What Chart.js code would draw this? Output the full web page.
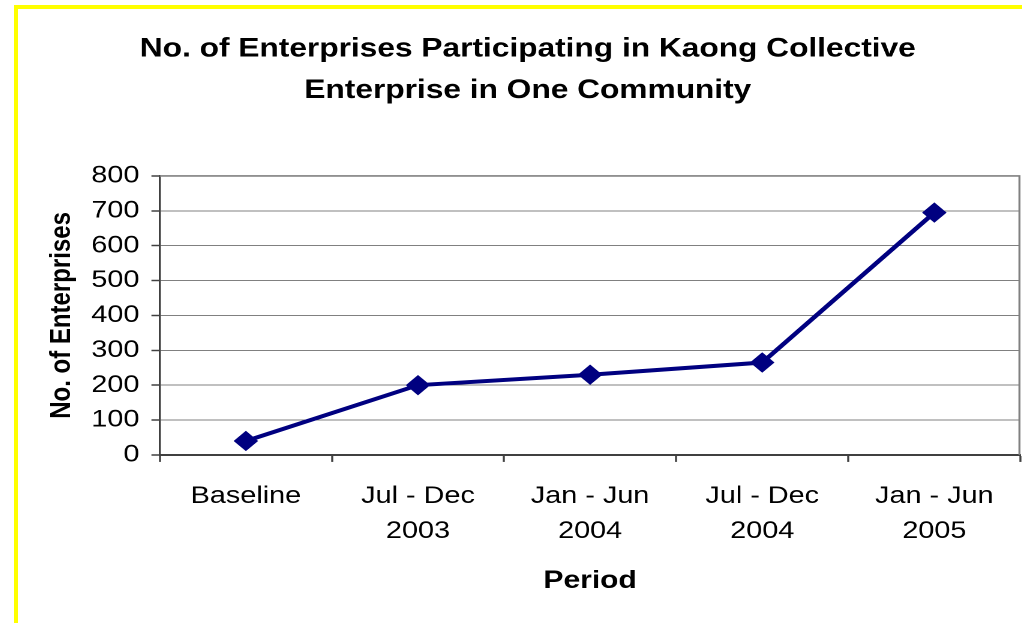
<!DOCTYPE html>
<html>
<head>
<meta charset="utf-8">
<script src="https://cdn.jsdelivr.net/npm/chart.js@4.4.1/dist/chart.umd.min.js"></script>
<style>
html, body { margin: 0; padding: 0; background: #fff; width: 1022px; height: 623px; overflow: hidden; }
#wrap { position: absolute; left: 34px; top: 0; width: 833px; height: 623px; transform: scaleX(1.2); transform-origin: 0 0; }
.yl { position: absolute; background: #ffff00; z-index: 2; }
</style>
</head>
<body>
<div class="yl" style="left:14px;top:5px;width:1008px;height:4px"></div>
<div class="yl" style="left:14px;top:5px;width:4px;height:618px"></div>
<div id="wrap"><canvas id="lineChart" width="833" height="623"></canvas></div>
<script>
var periods = ['Baseline', ['Jul - Dec', '2003'], ['Jan - Jun', '2004'], ['Jul - Dec', '2004'], ['Jan - Jun', '2005']];
var enterprises = [40, 200, 230, 265, 695];
var titleLines = ['No. of Enterprises Participating in Kaong Collective', 'Enterprise in One Community'];

var FONT = "'Liberation Sans', Arial, sans-serif";

// plot area frame on top and right, like the Excel chart
var frame = {
    id: 'frame',
    afterDraw: function (chart) {
        var a = chart.chartArea, c = chart.ctx;
        c.save();
        c.strokeStyle = '#808080';
        c.lineWidth = 1.7;
        c.beginPath();
        c.moveTo(a.left, a.top);
        c.lineTo(a.right - 0.8, a.top);
        c.lineTo(a.right - 0.8, a.bottom);
        c.stroke();
        c.restore();
    }
};

var ctx = document.getElementById('lineChart').getContext('2d');
var myChart = new Chart(ctx, {
    type: 'line',
    data: {
        labels: periods,
        datasets: [{
            data: enterprises,
            borderColor: '#000080',
            backgroundColor: '#000080',
            borderWidth: 4,
            pointStyle: 'rectRot',
            pointRadius: 9.5,
            pointBorderWidth: 1,
            tension: 0
        }]
    },
    options: {
        responsive: false,
        devicePixelRatio: 2,
        animation: false,
        layout: { padding: { top: 28, left: 1, right: 11, bottom: 27 } },
        plugins: {
            legend: { display: false },
            tooltip: { enabled: false },
            title: {
                display: true,
                text: titleLines,
                color: '#000',
                font: { family: FONT, size: 26.4, weight: 'bold', lineHeight: 1.59 },
                padding: { top: 0, bottom: 64 }
            }
        },
        scales: {
            x: {
                offset: true,
                grid: { offset: true, drawOnChartArea: false, tickLength: 7, tickColor: '#404040', tickWidth: 1.7 },
                border: { color: '#404040', width: 2 },
                ticks: { color: '#000', font: { family: FONT, size: 24, lineHeight: 1.46 }, padding: 17, maxRotation: 0 },
                title: {
                    display: true, text: 'Period', color: '#000',
                    font: { family: FONT, size: 25, weight: 'bold', lineHeight: 1.2 },
                    padding: { top: 0, bottom: 0 }
                }
            },
            y: {
                min: 0,
                max: 800,
                grid: { color: '#808080', lineWidth: 1, tickLength: 7, tickColor: '#404040', tickWidth: 1.5 },
                border: { color: '#404040', width: 1.7 },
                ticks: { stepSize: 100, color: '#000', font: { family: FONT, size: 24 }, padding: 10 },
                title: {
                    display: true, text: 'No. of Enterprises', color: '#000',
                    font: { family: FONT, size: 24, weight: 'bold', lineHeight: 1.2 },
                    padding: { top: 8, bottom: 0 }
                }
            }
        }
    },
    plugins: [frame]
});
</script>
</body>
</html>
